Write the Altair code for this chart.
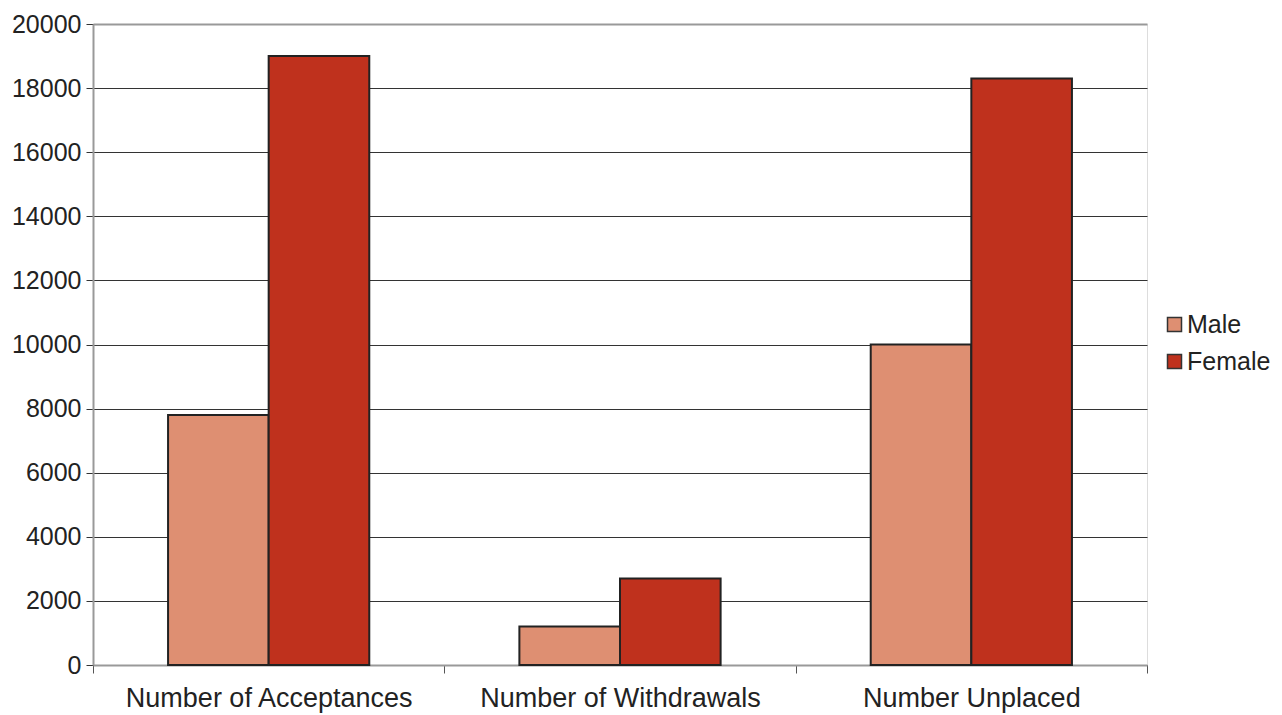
import altair as alt
import pandas as pd

categories = ["Number of Acceptances", "Number of Withdrawals", "Number Unplaced"]
male = [7800, 1200, 10000]
female = [19000, 2700, 18300]
series = ["Male", "Female"]
colors = ["#DE8F72", "#BF311D"]

rows = []
for i, c in enumerate(categories):
    rows.append({"category": c, "gender": "Male", "value": male[i]})
    rows.append({"category": c, "gender": "Female", "value": female[i]})
df = pd.DataFrame(rows)

chart = alt.Chart(df).mark_bar(
    stroke="#222222", strokeWidth=2, strokeJoin="miter"
).encode(
    x=alt.X(
        "category:N",
        sort=categories,
        title=None,
        scale=alt.Scale(paddingInner=0, paddingOuter=0),
        axis=alt.Axis(
            labelAngle=0,
            labelFont="Liberation Sans",
            labelFontSize=27,
            labelColor="#222222",
            labelPadding=12,
            labelLimit=0,
            tickBand="extent",
            tickColor="#555555",
            tickSize=8,
            domainColor="#999999",
            domainWidth=2,
            grid=False,
        ),
    ),
    xOffset=alt.XOffset(
        "gender:N", sort=series,
        scale=alt.Scale(paddingInner=0, paddingOuter=0.746),
    ),
    y=alt.Y(
        "value:Q",
        title=None,
        scale=alt.Scale(domain=[0, 20000], nice=False),
        axis=alt.Axis(
            values=list(range(0, 20001, 2000)),
            format="d",
            labelFont="Liberation Sans",
            labelFontSize=25,
            labelColor="#222222",
            labelPadding=5,
            tickColor="#333333",
            tickSize=7,
            domainColor="#999999",
            domainWidth=2,
            grid=True,
            gridColor={"condition": {"test": "datum.value == 20000", "value": "#999999"}, "value": "#333333"},
            gridWidth={"condition": {"test": "datum.value == 20000", "value": 2}, "value": 1},
        ),
    ),
    color=alt.Color(
        "gender:N",
        sort=series,
        scale=alt.Scale(domain=series, range=colors),
        legend=alt.Legend(
            title=None,
            orient="none",
            legendX=1069,
            legendY=288,
            symbolType="square",
            symbolSize=196,
            symbolStrokeColor="#333333",
            symbolStrokeWidth=1.5,
            labelFont="Liberation Sans",
            labelFontSize=25,
            labelColor="#222222",
            labelOffset=0,
            labelLimit=0,
            rowPadding=11,
        ),
    ),
).properties(
    width=1054,
    height=641,
    autosize=alt.AutoSizeParams(type="none"),
    padding={"left": 85, "top": 16, "right": 127, "bottom": 48},
).configure_view(
    stroke="#999999", strokeWidth=2
).configure(background="white")

chart.save("out.html", embed_options={"renderer": "svg", "actions": False})
